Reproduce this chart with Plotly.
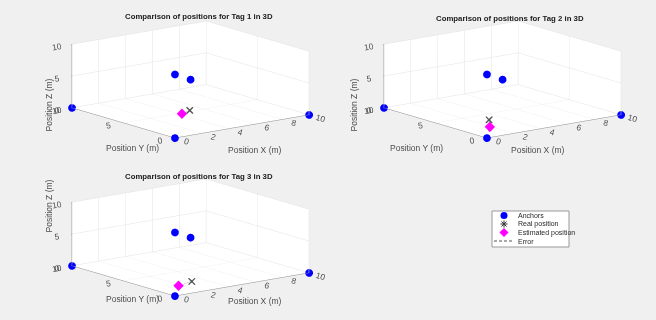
import plotly.graph_objects as go
import math

# Anchor coordinates (m)
anchor_x = [0, 10, 0, 0, 5]
anchor_y = [0, 0, 10, 0, 5]
anchor_z = [0, 0, 0, 10, 5]

# Tag positions (m): real vs estimated
tags = ["Tag 1", "Tag 2", "Tag 3"]
real_x = [4.1, 2.0, 2.1]
real_y = [3.9, 2.4, 1.1]
real_z = [1.0, 1.0, 1.0]
est_x = [3.2, 0.9, 0.8]
est_y = [3.5, 0.9, 0.7]
est_z = [1.0, 1.0, 1.0]

x_ticks = [0, 2, 4, 6, 8, 10]
y_ticks = [0, 5, 10]
z_ticks = [0, 5, 10]

legend_labels = ["Anchors", "Real position", "Estimated position", "Error"]

W, H = 656, 320
BG = "#f0f0f0"
FONT = "Liberation Sans, Arial, sans-serif"
TICK_COLOR = "#4d4d4d"

# scene boxes in pixels: (left, right, top, bottom)
boxes = [(45, 336, 5, 154), (357, 648, 5, 154), (45, 336, 163, 312)]


def dom(b):
    l, r, t, bt = b
    return dict(x=[l / W, r / W], y=[1 - bt / H, 1 - t / H])


fig = go.Figure()

for i, tag in enumerate(tags):
    scene = "scene" if i == 0 else f"scene{i+1}"
    fig.add_trace(go.Scatter3d(
        x=anchor_x, y=anchor_y, z=anchor_z, mode="markers",
        marker=dict(symbol="circle", size=4.5, color="#0000ff", line=dict(width=0)),
        name="Anchors", showlegend=False, scene=scene))
    fig.add_trace(go.Scatter3d(
        x=[real_x[i], est_x[i]], y=[real_y[i], est_y[i]], z=[real_z[i], est_z[i]],
        mode="lines", line=dict(color="#555555", width=1, dash="dash"),
        name="Error", showlegend=False, scene=scene))
    for sym in ("x", "cross"):
        fig.add_trace(go.Scatter3d(
            x=[real_x[i]], y=[real_y[i]], z=[real_z[i]], mode="markers",
            marker=dict(symbol=sym, size=1.6, color="#555555"),
            name="Real position", showlegend=False, scene=scene))
    fig.add_trace(go.Scatter3d(
        x=[est_x[i]], y=[est_y[i]], z=[est_z[i]], mode="markers",
        marker=dict(symbol="diamond", size=3.4, color="#ff00ff"),
        name="Estimated position", showlegend=False, scene=scene))

az = math.radians(232.5)
el = math.radians(13)
r = 2.0
eye = dict(x=r * math.cos(el) * math.cos(az), y=r * math.cos(el) * math.sin(az), z=r * math.sin(el))
S = 2.27


def axis(ticks):
    return dict(
        range=[0, 10], tickvals=ticks, ticktext=[str(t) for t in ticks],
        title=dict(text=""), showgrid=True, gridcolor="#e3e3e3", gridwidth=1,
        showbackground=True, backgroundcolor="white", showline=True, linecolor="#8c8c8c",
        zeroline=False, showspikes=False, ticks="outside", ticklen=1, tickcolor="#8c8c8c",
        tickfont=dict(family=FONT, size=10, color=TICK_COLOR),
    )


for i in range(3):
    key = "scene" if i == 0 else f"scene{i+1}"
    fig.update_layout(**{key: dict(
        domain=dom(boxes[i]),
        xaxis=axis(x_ticks), yaxis=axis(y_ticks), zaxis=axis(z_ticks),
        aspectmode="manual", aspectratio=dict(x=S, y=S, z=0.386 * S),
        bgcolor=BG,
        camera=dict(eye=eye, up=dict(x=0, y=0, z=1), center=dict(x=0, y=0, z=0),
                    projection=dict(type="orthographic")),
    )})

annotations = []
title_pos = [(199, 17), (510, 18), (199, 176)]
for i, tag in enumerate(tags):
    tx, ty = title_pos[i]
    annotations.append(dict(
        text=f"<b>Comparison of positions for {tag} in 3D</b>", x=tx / W, y=1 - ty / H,
        xref="paper", yref="paper", showarrow=False, xanchor="center", yanchor="middle",
        font=dict(family=FONT, size=7.8, color="#1a1a1a")))

# axis titles per panel (pixel offsets relative to panel 1)
offsets = [(0, 0), (312, 0), (0, 158)]
for ox, oy in offsets:
    annotations.append(dict(text="Position X (m)", x=(255 + ox) / W, y=1 - (150 + oy) / H,
                            xref="paper", yref="paper", showarrow=False,
                            font=dict(family=FONT, size=8.5, color=TICK_COLOR)))
    annotations.append(dict(text="Position Y (m)", x=(104 + ox) / W, y=1 - (148 + oy) / H,
                            xref="paper", yref="paper", showarrow=False,
                            font=dict(family=FONT, size=8.5, color=TICK_COLOR)))
    annotations.append(dict(text="Position Z (m)", x=(41 + ox) / W, y=1 - (77 + oy) / H,
                            xref="paper", yref="paper", showarrow=False, textangle=-90,
                            font=dict(family=FONT, size=8.5, color=TICK_COLOR)))

# legend panel drawn on a hidden pixel-scaled cartesian axis
LX0, LX1, LY0, LY1 = 492, 569, 211, 247
row_y = [215.5, 224, 232.5, 241]
mark_x = 504
text_x = 516
fig.add_trace(go.Scatter(x=[mark_x], y=[row_y[0]], mode="markers",
                         marker=dict(symbol="circle", size=7, color="#0000ff"),
                         xaxis="x", yaxis="y", showlegend=False, hoverinfo="skip"))
fig.add_trace(go.Scatter(x=[mark_x], y=[row_y[1]], mode="markers",
                         marker=dict(symbol="asterisk-open", size=6, color="#333333",
                                     line=dict(width=1, color="#333333")),
                         xaxis="x", yaxis="y", showlegend=False, hoverinfo="skip"))
fig.add_trace(go.Scatter(x=[mark_x], y=[row_y[2]], mode="markers",
                         marker=dict(symbol="diamond", size=7, color="#ff00ff"),
                         xaxis="x", yaxis="y", showlegend=False, hoverinfo="skip"))
fig.add_trace(go.Scatter(x=[LX0 + 2, text_x - 2], y=[row_y[3], row_y[3]], mode="lines",
                         line=dict(color="#555555", width=1, dash="3px,2px"),
                         xaxis="x", yaxis="y", showlegend=False, hoverinfo="skip"))
for lab, yy in zip(legend_labels, row_y):
    annotations.append(dict(text=lab, x=text_x, y=yy, xref="x", yref="y", showarrow=False,
                            xanchor="left", yanchor="middle",
                            font=dict(family=FONT, size=7, color="#262626")))

shapes = [dict(type="rect", xref="x", yref="y", x0=LX0, x1=LX1, y0=LY0, y1=LY1,
               line=dict(color="#999999", width=1), fillcolor="white", layer="below")]

fig.update_layout(
    width=W, height=H, margin=dict(l=0, r=0, t=0, b=0),
    paper_bgcolor=BG, plot_bgcolor="rgba(0,0,0,0)",
    annotations=annotations, shapes=shapes, showlegend=False,
    xaxis=dict(domain=[0, 1], range=[0, W], visible=False, fixedrange=True),
    yaxis=dict(domain=[0, 1], range=[H, 0], visible=False, fixedrange=True),
)

fig.write_html("out.html")
